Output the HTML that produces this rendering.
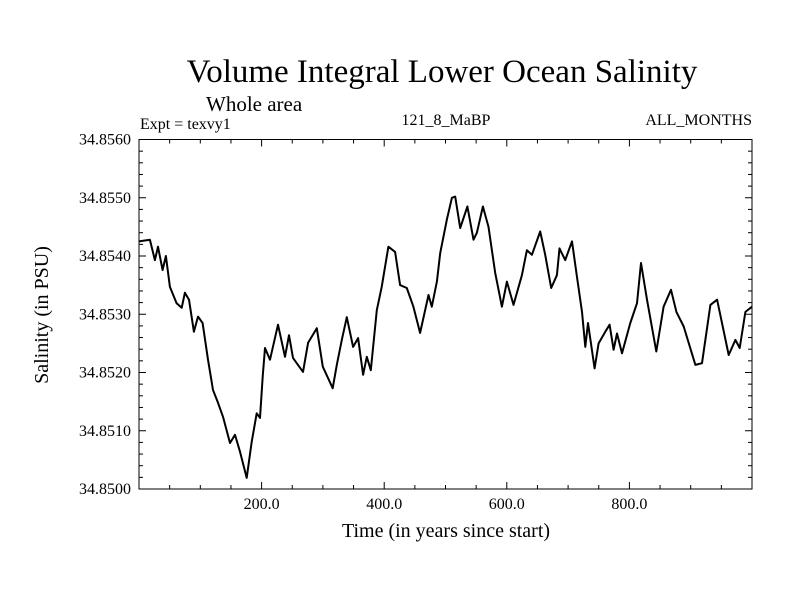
<!DOCTYPE html>
<html><head><meta charset="utf-8"><style>
body{margin:0;background:#fff}
svg text{font-family:"Liberation Serif",serif;fill:#000}
</style></head><body>
<svg width="800" height="600" viewBox="0 0 800 600" xmlns="http://www.w3.org/2000/svg">
<rect width="800" height="600" fill="#fff"/>
<text x="442" y="82" font-size="33" text-anchor="middle">Volume Integral Lower Ocean Salinity</text>
<text x="206" y="111" font-size="21">Whole area</text>
<text x="140" y="129" font-size="16">Expt = texvy1</text>
<text x="446" y="125" font-size="16" text-anchor="middle">121_8_MaBP</text>
<text x="752" y="125" font-size="16" text-anchor="end">ALL_MONTHS</text>
<text x="446" y="537" font-size="20" text-anchor="middle">Time (in years since start)</text>
<text transform="translate(48,315) rotate(-90)" font-size="20" text-anchor="middle">Salinity (in PSU)</text>
<g id="axes"></g>
<path id="series" fill="none" stroke="#000" stroke-width="2" stroke-linejoin="round"/>
<rect x="139" y="139.5" width="613" height="349.5" fill="none" stroke="#000" stroke-width="1"/>
</svg>
<script>
const years=[0,17.8,26,31,38.5,43.9,50.4,61.4,69.6,74.9,81.5,89.6,96.2,103.8,112.5,120.7,128.8,137,148.4,156.6,164.7,175.7,183.8,192,197.4,201.8,205.6,213.7,226.8,238.2,244.7,251.3,267.6,275.8,290,299.8,316,322.6,330.8,339,349.2,357.4,365.6,371.6,378.1,388,396,406.9,417.8,426,436.9,447.7,458.6,472.2,477.7,485.9,491.3,502.2,510.4,515.8,523.9,535.8,545.6,551.2,561,570.1,581,592,600.2,610.9,624.7,632.8,641,654.5,662.7,672.5,681.8,686,695.3,706.3,714.4,722.6,728,732.4,743.2,749.7,760.7,767.7,774.2,779.8,787.9,801.5,812.4,819,828.7,843.9,855.8,867.9,876.6,888.5,907.6,918.5,932.1,943,962,972.9,979.9,989.2,1000];
const salinity=[34.85425,34.85428,34.85393,34.85416,34.85376,34.85400,34.85347,34.85319,34.85311,34.85337,34.85325,34.85270,34.85296,34.85285,34.85222,34.85170,34.85148,34.85124,34.85079,34.85093,34.85064,34.85019,34.85081,34.85130,34.85122,34.85193,34.85242,34.85222,34.85282,34.85227,34.85264,34.85225,34.85201,34.85251,34.85276,34.85210,34.85173,34.85213,34.85256,34.85295,34.85244,34.85259,34.85196,34.85227,34.85204,34.85307,34.85347,34.85416,34.85407,34.85350,34.85345,34.85313,34.85268,34.85333,34.85313,34.85356,34.85405,34.85462,34.85500,34.85502,34.85448,34.85485,34.85428,34.85440,34.85485,34.85450,34.85371,34.85313,34.85356,34.85316,34.85367,34.85410,34.85402,34.85442,34.85402,34.85345,34.85367,34.85413,34.85393,34.85425,34.85365,34.85304,34.85244,34.85285,34.85207,34.85250,34.85270,34.85282,34.85239,34.85267,34.85233,34.85285,34.85319,34.85388,34.85325,34.85236,34.85313,34.85342,34.85304,34.85279,34.85213,34.85216,34.85316,34.85325,34.85230,34.85256,34.85242,34.85304,34.85313];
const xTicks=[200,400,600,800];
const xTickLabels=["200.0","400.0","600.0","800.0"];
const yTicks=[34.850,34.851,34.852,34.853,34.854,34.855,34.856];
const yTickLabels=["34.8500","34.8510","34.8520","34.8530","34.8540","34.8550","34.8560"];
const X0=139,X1=752,Y0=489,Y1=139.5,XMIN=0,XMAX=1000,YMIN=34.850,YMAX=34.856;
function sx(v){return X0+(v-XMIN)/(XMAX-XMIN)*(X1-X0);}
function sy(v){return Y0-(v-YMIN)/(YMAX-YMIN)*(Y0-Y1);}
const NS="http://www.w3.org/2000/svg";
const axes=document.getElementById('axes');
function line(x1,y1,x2,y2){const l=document.createElementNS(NS,'line');l.setAttribute('x1',x1);l.setAttribute('y1',y1);l.setAttribute('x2',x2);l.setAttribute('y2',y2);l.setAttribute('stroke','#000');l.setAttribute('stroke-width','1');axes.appendChild(l);return l;}
for(let v=50;v<XMAX;v+=50){
  const major=v%200===0, len=major?7:4, x=sx(v);
  const t1=line(x,Y0,x,Y0-len);
  
  
  const t2=line(x,Y1,x,Y1+len);
  
  
}
xTicks.forEach((v,i)=>{
  const t=document.createElementNS(NS,'text');
  t.setAttribute('x',sx(v));t.setAttribute('y',Y0+20);t.setAttribute('font-size','16');t.setAttribute('text-anchor','middle');
  t.textContent=xTickLabels[i];
  
  
  axes.appendChild(t);
});
for(let k=1;k<30;k++){
  const v=YMIN+k*0.0002, major=k%5===0, len=major?7:4, y=sy(v);
  const t1=line(X0,y,X0+len,y);
  
  
  const t2=line(X1,y,X1-len,y);
  
  
}
yTicks.forEach((v,i)=>{
  const t=document.createElementNS(NS,'text');
  t.setAttribute('x',131);t.setAttribute('y',sy(v)+5);t.setAttribute('font-size','16');t.setAttribute('text-anchor','end');
  t.textContent=yTickLabels[i];
  
  
  axes.appendChild(t);
});
document.getElementById('series').setAttribute('d',years.map((yr,i)=>(i?'L':'M')+sx(yr).toFixed(1)+','+sy(salinity[i]).toFixed(1)).join(''));
</script>
</body></html>
